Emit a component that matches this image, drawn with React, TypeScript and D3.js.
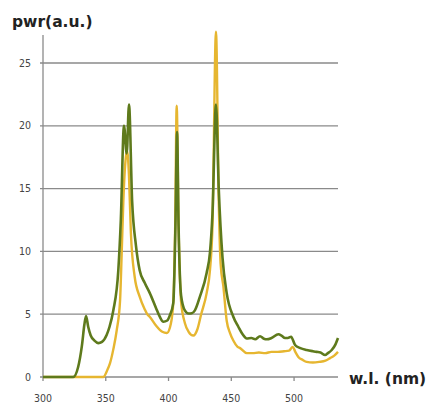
import React from "react";
import * as d3 from "d3";

// wavelength (nm) / power (a.u.) pairs
const greenWl = [300, 324, 328, 331, 333, 334.3, 336, 338, 341, 344, 347, 350.7, 353, 356, 360, 362, 364.5, 366.7, 368.5, 371, 374, 377, 381, 385, 390, 393, 395.9, 399, 401, 403.8, 405.5, 406.8, 408, 410, 413, 416, 418.5, 421, 425, 430.4, 433, 435, 437.8, 440, 443, 446.3, 451.6, 455.6, 459, 462.3, 466, 469, 472.9, 476, 478.2, 482, 487.5, 490, 492.8, 495, 497.6, 500.8, 505, 510, 515, 518, 521, 524.7, 527, 530, 533, 535];
const greenPwr = [0, 0, 0.8, 2.5, 4.2, 4.86, 4.0, 3.3, 2.9, 2.7, 2.8, 3.35, 4, 5.3, 8.5, 12.5, 20, 17.8, 21.7, 14, 10.5, 8.5, 7.5, 6.7, 5.5, 4.8, 4.4, 4.5, 4.9, 5.9, 12, 19.5, 12, 6.5, 5.3, 5.05, 5.07, 5.3, 6.4, 8.3, 9.9, 13, 21.7, 15, 9.5, 6.7, 4.8, 4.0, 3.4, 3.07, 3.1, 3.0, 3.25, 3.05, 3.0, 3.1, 3.4, 3.3, 3.1, 3.1, 3.2, 2.55, 2.3, 2.15, 2.05, 2.0, 1.95, 1.75, 1.9, 2.15, 2.6, 3.1];

const yellowWl = [300, 348, 351, 353.4, 356, 358.7, 361.4, 362.7, 364, 366, 367, 368.5, 370, 373, 377, 381, 383, 385, 390, 395, 398.6, 401, 403.5, 405.3, 406.5, 408, 410, 413, 416, 419.8, 423, 426, 430.4, 433, 435, 437.8, 440, 441.5, 443.7, 446.3, 449, 451.6, 455, 457, 462.3, 467, 472, 477, 482, 487, 492, 496, 499, 501, 503.4, 507, 510, 515, 520, 525, 528.7, 532, 535];
const yellowPwr = [0, 0, 0.5, 1.1, 2.2, 3.7, 6.1, 9.9, 14, 17.5, 18, 16, 11.5, 8, 6.4, 5.4, 5.0, 4.8, 4.1, 3.6, 3.5, 3.9, 5.5, 12, 21.6, 12, 6, 4.3, 3.6, 3.3, 3.8, 5, 6.7, 8.5, 12, 27.5, 14, 9, 7.2, 4.5, 3.5, 2.9, 2.4, 2.3, 1.9, 1.9, 1.95, 1.9, 2.0, 2.0, 2.05, 2.1, 2.4, 2.0, 1.6, 1.35, 1.2, 1.15, 1.2, 1.3, 1.5, 1.7, 2.0];

const xTicks = [300, 350, 400, 450, 500];
const yTicks = [0, 5, 10, 15, 20, 25];

export default function App() {
  const x = d3.scaleLinear().domain([300, 535]).range([43, 338]);
  const y = d3.scaleLinear().domain([0, 25]).range([377, 63]);

  const line = d3
    .line<[number, number]>()
    .x((d) => x(d[0]))
    .y((d) => y(d[1]))
    .curve(d3.curveMonotoneX);

  const green = d3.zip(greenWl, greenPwr) as [number, number][];
  const yellow = d3.zip(yellowWl, yellowPwr) as [number, number][];

  return (
    <svg
      width={429}
      height={403}
      style={{ position: "absolute", left: 0, top: 0, background: "#fff" }}
    >
      {/* grid */}
      {yTicks.map((t) => (
        <g key={t}>
          <line x1={40} x2={338} y1={y(t)} y2={y(t)} stroke="#8a8a8a" strokeWidth={1.3} />
          <text
            x={31}
            y={y(t)}
            dy="0.35em"
            textAnchor="end"
            fontFamily="DejaVu Sans Condensed, DejaVu Sans"
            fontSize={10.5}
            fill="#444"
          >
            {t}
          </text>
        </g>
      ))}
      <line x1={43} x2={43} y1={35} y2={377} stroke="#8a8a8a" strokeWidth={1.3} />
      {xTicks.map((t) => (
        <g key={t}>
          <line x1={x(t)} x2={x(t)} y1={377} y2={381} stroke="#8a8a8a" strokeWidth={1.3} />
          <text
            x={x(t)}
            y={402}
            textAnchor="middle"
            fontFamily="DejaVu Sans Condensed, DejaVu Sans"
            fontSize={10.5}
            fill="#444"
          >
            {t}
          </text>
        </g>
      ))}

      <path d={line(yellow) ?? ""} fill="none" stroke="#e6b630" strokeWidth={2.4} strokeLinejoin="round" />
      <path d={line(green) ?? ""} fill="none" stroke="#5e7a1c" strokeWidth={2.6} strokeLinejoin="round" />

      <text x={12} y={27} fontFamily="DejaVu Sans" fontWeight="bold" fontSize={15.5} fill="#222">
        pwr(a.u.)
      </text>
      <text x={349} y={384} fontFamily="DejaVu Sans" fontWeight="bold" fontSize={15.5} fill="#222">
        w.l. (nm)
      </text>
    </svg>
  );
}
